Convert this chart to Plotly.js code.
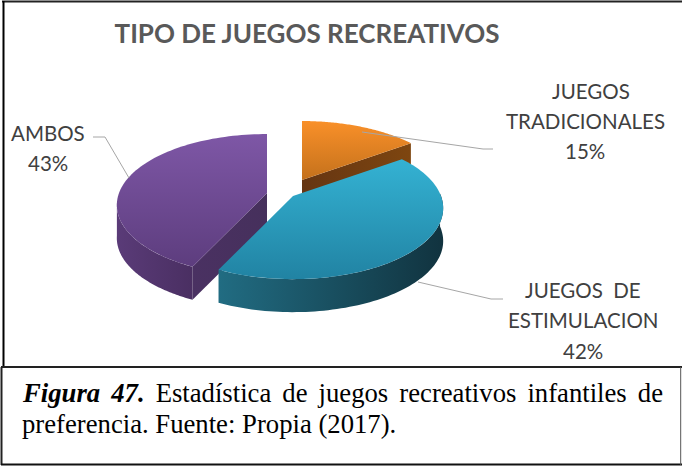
<!DOCTYPE html>
<html><head><meta charset="utf-8">
<script src="https://cdn.plot.ly/plotly-3.0.1.min.js"></script>
<style>html,body{margin:0;padding:0;background:#fff}#c{width:682px;height:466px}</style></head>
<body><div id="c"></div>
<script>
const categories = ["JUEGOS TRADICIONALES", "JUEGOS DE ESTIMULACION", "AMBOS"];
const values = [15, 42, 43];
const chartTitle = "TIPO DE JUEGOS RECREATIVOS";
const captionLines = ["<b><i>Figura 47.</i></b> Estadística de juegos recreativos infantiles de", "preferencia. Fuente: Propia (2017)."];
const labelLines = [
  ["JUEGOS", "TRADICIONALES", "15%"],
  ["JUEGOS  DE", "ESTIMULACION", "42%"],
  ["AMBOS", "43%"]
];

// Drawing parameters
const W = 682, H = 466;
const RX = 148, RY = 69, PERSP = 0.17, DEPTH = 33;
const apex = [[302, 180], [293, 196], [267, 193]];
const topGrad = [["#c4711c", "#f99029"], ["#2183a3", "#34b2d3"], ["#5d3d7e", "#7e57a6"]];
const faceGrad = [["#653512", "#7e4610"], null, ["#4a3162", "#46305c"]];
const wallGrad = [null, ["#216c82", "#11333f"], ["#5a3b78", "#4a2f62"]];
const wallLimit = [null, 2, -172];
const labelPos = [
  [[591, 91], [585, 121], [585, 151]],
  [[583, 290], [583, 320], [583, 351]],
  [[48, 133], [48, 163]]
];
const leaders = [
  [[362, 132], [483, 149], [493, 149]],
  [[418, 282], [491, 299], [503, 299]],
  [[129, 178], [105, 137], [93, 137]]
];

const rad = d => d * Math.PI / 180;
function proj(c, deg, dz) {
  const s = Math.sin(rad(deg)), q = 1 + PERSP * s;
  return [c[0] + RX * Math.cos(rad(deg)) / q, c[1] - RY * s / q + dz];
}
function arc(c, a, b, dz) {
  const n = 80, pts = [];
  for (let i = 0; i <= n; i++) pts.push(proj(c, a + (b - a) * i / n, dz));
  return pts;
}
function poly(pts, cols, type) {
  const closed = pts.concat([pts[0]]);
  return {
    type: "scatter", mode: "none", x: closed.map(p => p[0]), y: closed.map(p => p[1]),
    fill: "toself", hoverinfo: "skip", showlegend: false,
    fillgradient: { type: type, colorscale: [[0, cols[0]], [1, cols[1]]] }
  };
}

// Slices run clockwise from twelve o'clock
const total = values.reduce((a, b) => a + b, 0);
let cursor = 90;
const spans = values.map(v => { const a = cursor; cursor -= v / total * 360; return [a, cursor]; });

const traces = [];
[0, 2, 1].forEach(i => {
  const c = apex[i], [a, b] = spans[i];
  // outer wall
  if (wallGrad[i]) {
    const edge = i === 1 ? b : a;            // the front-facing end of the slice
    const upper = arc(c, Math.min(edge, wallLimit[i]), Math.max(edge, wallLimit[i]), 0);
    const lower = upper.map(p => [p[0], p[1] + DEPTH]).reverse();
    traces.push(poly(upper.concat(lower), wallGrad[i], "horizontal"));
  }
  // radial face
  if (faceGrad[i]) {
    const e = i === 0 ? b : a;
    const pts = [c, proj(c, e, 0), proj(c, e, DEPTH), [c[0], c[1] + DEPTH]];
    traces.push(poly(pts, faceGrad[i], "horizontal"));
  }
  // top surface
  traces.push(poly([c].concat(arc(c, a, b, 0)), topGrad[i], "vertical"));
});

// Leader lines
leaders.forEach(l => traces.push({
  type: "scatter", mode: "lines", x: l.map(p => p[0]), y: l.map(p => p[1]),
  line: { color: "#a6a6a6", width: 1 }, hoverinfo: "skip", showlegend: false
}));

const annotations = [];
labelLines.forEach((lines, i) => lines.forEach((t, j) => annotations.push({
  x: labelPos[i][j][0], y: labelPos[i][j][1], xref: "x", yref: "y", text: t, showarrow: false,
  xanchor: "center", yanchor: "middle", font: { family: "Lato, sans-serif", size: 20.5, color: "#404040" }
})));
captionLines.forEach((t, j) => annotations.push({
  x: 20, y: [393, 424][j], xref: "x", yref: "y", text: t, showarrow: false, align: "left",
  xanchor: "left", yanchor: "middle",
  font: { family: "'Liberation Serif', serif", size: 26.7, color: "#000" }
}));

const seg = (x0, y0, x1, y1, color, width) => ({ type: "line", xref: "x", yref: "y", x0, y0, x1, y1, line: { color, width }, layer: "above" });
const layout = {
  width: W, height: H, margin: { l: 0, r: 0, t: 0, b: 0, pad: 0 },
  paper_bgcolor: "#fff", plot_bgcolor: "#fff", showlegend: false,
  title: { text: "<b>" + chartTitle + "</b>", x: 307 / W, xanchor: "center", xref: "paper",
           y: 1 - 34 / H, yref: "paper", yanchor: "middle",
           font: { family: "Lato, sans-serif", size: 26, color: "#595959" } },
  xaxis: { range: [0, W], visible: false, fixedrange: true },
  yaxis: { range: [H, 0], visible: false, fixedrange: true },
  shapes: [
    seg(2, 1.5, 682, 1.5, "#222", 2),
    seg(3.5, 1, 3.5, 367, "#000", 2),
    seg(1, 367, 682, 367, "#222", 2),
    seg(1.5, 367, 1.5, 465, "#222", 2),
    seg(1, 464.5, 682, 464.5, "#111", 2),
    seg(680.7, 367, 680.7, 465, "#555", 1)
  ],
  annotations: annotations
};

Plotly.newPlot("c", traces, layout, { displayModeBar: false, staticPlot: true }).then(() => {
  // justify the first caption line between the box margins
  const nodes = [...document.querySelectorAll(".annotation-text")];
  const first = nodes.find(n => n.textContent.startsWith("Figura"));
  if (first) {
    const gaps = first.textContent.trim().split(/\s+/).length - 1;
    first.style.wordSpacing = ((640 - first.getComputedTextLength()) / gaps) + "px";
  }
});
</script></body></html>
